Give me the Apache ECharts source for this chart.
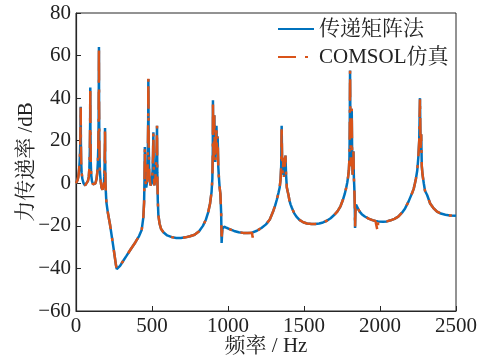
<!DOCTYPE html>
<html>
<head>
<meta charset="utf-8">
<script src="https://cdn.jsdelivr.net/npm/echarts@6/dist/echarts.min.js"></script>
<style>html,body{margin:0;padding:0;background:#fff;}#c{width:484px;height:361px;}</style>
</head>
<body>
<div id="c"></div>
<script>
// Frequency (Hz)
var freq = [
0,5,10,15,20,24,27,29,30,31,32,34,37,42,50,60,70,78,84,88,91,93,94,95,97,100,105,112,120,128,135,140,144,147,149,150,151,152,154,157,162,168,174,179,183,186,188,190,191,192,194,197,200,
210,224,245,262,268,272,278,290,310,333,360,390,415,432,
443,448,451,453,456,462,468,472,475,476,478,482,490,498,504,507,509,511,515,522,528,531,533,535,538,542,550,560,575,600,630,660,690,720,750,780,810,835,855,870,882,892,897,
900,901,902,905,908,910,913,916,920,924,928,932,936,940,945,950,955,958,963,966,970,975,980,990,
1010,1040,1070,1100,1130,1158,1162,1166,1190,1220,1250,1275,1298,1310,1322,1332,
1340,1346,1350,1353,1356,1360,1365,1369,1374,1378,1382,1387,1393,1398,1404,1412,1420,1435,1450,1470,1495,1520,1550,1575,1600,1625,1650,1675,1700,1720,1740,1755,1768,1778,1785,1790,
1795,1799,1801,1803,1805,1808,1811,1814,1817,1820,1823,1825,1828,1831,1834,1836,1838,1842,1848,1856,1866,1880,1900,1925,1950,1970,1982,1985,1988,2000,2020,2045,2070,2095,2120,2145,2165,2185,2200,2212,2222,2230,
2236,2245,2252,2258,2263,2267,2271,2275,2280,2288,2296,2310,2330,2350,2375,2400,2430,2460,2500
];
// 传递矩阵法 (dB)
var tmm = [
0,0.5,1.5,3,6,10,15,22,28,36,20,10,5,2,0,-1,-0.5,1,3,7,15,28,45,25,10,4,1,-0.5,-1,0,2,5,10,18,30,45,64,35,15,6,1,-2,-3,-3,-1,3,8,17,26,10,0,-5,-9,
-14,-19.5,-29.5,-38,-40.3,-41,-40.2,-38.8,-36.5,-34,-31,-27.8,-24.8,-22,
-16,-9,3,17,2,-2,1,10,30,49,20,4,-1,0,6,14,24,8,-1,2,10,18,27,5,-8,-15,-19,-21.5,-23,-24.5,-25.3,-25.7,-25.7,-25.4,-24.9,-24.2,-22.5,-20,-17,-13.5,-9.5,-4,2,
15,39,25,12,22,32,18,10,20,27,14,22,8,3,-2,-5,-14,-28,-21.5,-20.8,-20.6,-20.4,-20.5,-20.9,
-21.5,-22.4,-23,-23.3,-23.4,-23.2,-23.1,-23,-22.3,-21,-19.3,-17,-13,-10.5,-7.5,-4.5,
-2,2,8,27,10,4,12,3,8,13,4,-2,-4,-5.5,-8,-10,-11.5,-14,-15.7,-17.2,-18.3,-18.9,-19.1,-19.1,-18.9,-18.4,-17.6,-16.4,-14.8,-13.2,-10.8,-8,-5,-2,0.5,3,
6,12,25,53,30,8,15,35,12,4,10,15,3,-2,-10,-21,-14,-10,-10.8,-12,-13.3,-14.5,-15.6,-16.6,-17.3,-17.7,-17.8,-17.9,-17.9,-18,-18.1,-17.9,-17.4,-16.7,-15.7,-13.8,-11.8,-9,-6.5,-4.5,-2.5,0,
2,6,12,20,40,15,23,8,4,0,-3.5,-5.5,-9.5,-11.5,-13.3,-14.2,-14.8,-15.1,-15.3
];
// COMSOL仿真 (dB)
var comsol = [
0,0.5,1.5,3,6,10,15,22,28,36,20,10,5,2,0,-1,-0.5,1,3,7,15,28,45,25,10,4,1,-0.5,-1,0,2,5,10,18,30,45,64,35,15,6,1,-2,-3,-3,-1,3,8,17,26,10,0,-5,-9,
-14,-19.5,-29.5,-38,-40.3,-41,-40.2,-38.8,-36.5,-34,-31,-27.8,-24.8,-22,
-16,-9,3,17,2,-2,1,10,30,49.5,20,4,-1,0,6,14,24,8,-1,2,10,18,27,5,-8,-15,-19,-21.5,-23,-24.5,-25.3,-25.7,-25.7,-25.4,-24.9,-24.2,-22.5,-20,-17,-13.5,-9.5,-4,2,
15,39,25,12,22,32,18,10,20,27,14,22,8,3,-2,-5,-14,-25,-21.5,-20.8,-20.6,-20.4,-20.5,-20.9,
-21.5,-22.4,-23,-23.3,-23.4,-23.2,-25.5,-23,-22.3,-21,-19.3,-17,-13,-10.5,-7.5,-4.5,
-2,2,8,27,10,4,12,3,8,13,4,-2,-4,-5.5,-8,-10,-11.5,-14,-15.7,-17.2,-18.3,-18.9,-19.1,-19.1,-18.9,-18.4,-17.6,-16.4,-14.8,-13.2,-10.8,-8,-5,-2,0.5,3,
6,12,25,53,30,8,15,35,12,4,10,15,3,-2,-10,-21,-14,-10,-10.8,-12,-13.3,-14.5,-15.6,-16.6,-17.3,-17.7,-17.8,-22.7,-17.9,-18,-18.1,-17.9,-17.4,-16.7,-15.7,-13.8,-11.8,-9,-6.5,-4.5,-2.5,0,
2,6,12,20,40,15,23,8,4,0,-3.5,-5.5,-9.5,-11.5,-13.3,-14.2,-14.8,-15.1,-15.3
];
var seriesNames = ['传递矩阵法', 'COMSOL仿真'];
var xTicks = [0, 500, 1000, 1500, 2000, 2500];
var yTicks = [-60, -40, -20, 0, 20, 40, 60, 80];

function pairs(vals) { return freq.map(function (f, i) { return [f, vals[i]]; }); }

var FONT = "'Liberation Serif','Noto Serif CJK SC','Noto Sans CJK SC',serif";
var AX = '#262626';
var chart = echarts.init(document.getElementById('c'), null, {renderer: 'canvas'});
chart.setOption({
  animation: false,
  backgroundColor: '#fff',
  grid: {left: 76, right: 28, top: 13, bottom: 50, show: true, borderColor: AX, borderWidth: 1,
         containLabel: false, outerBoundsMode: 'none'},
  legend: {
    orient: 'vertical', left: 272, top: 12, itemWidth: 36, itemHeight: 14, itemGap: 4,
    itemStyle: {opacity: 0},
    textStyle: {fontFamily: FONT, fontSize: 21, color: '#222', lineHeight: 24},
    data: seriesNames
  },
  xAxis: {
    type: 'value', min: xTicks[0], max: xTicks[xTicks.length - 1], interval: 500,
    name: '频率 / Hz', nameLocation: 'middle', nameGap: 25, nameMoveOverlap: false,
    nameTextStyle: {fontFamily: FONT, fontSize: 21, color: '#222'},
    axisLine: {onZero: false, lineStyle: {color: AX, width: 1.2}},
    axisTick: {inside: true, length: 5, lineStyle: {color: AX}},
    axisLabel: {fontFamily: FONT, fontSize: 21, color: '#222', margin: 5,
      formatter: function (v) { return String(v); }},
    splitLine: {show: false}
  },
  yAxis: {
    type: 'value', min: yTicks[0], max: yTicks[yTicks.length - 1], interval: 20,
    name: '力传递率 /dB', nameLocation: 'middle', nameGap: 39, nameMoveOverlap: false,
    nameTextStyle: {fontFamily: FONT, fontSize: 21, color: '#222'},
    axisLine: {show: true, onZero: false, lineStyle: {color: AX, width: 1.2}},
    axisTick: {show: true, inside: true, length: 5, lineStyle: {color: AX}},
    axisLabel: {fontFamily: FONT, fontSize: 21, color: '#222', margin: 5,
      formatter: function (v) { return String(v).replace('-', '\u2212'); }},
    splitLine: {show: false}
  },
  series: [
    {name: seriesNames[0], type: 'line', data: pairs(tmm), symbol: 'none', smooth: false,
     lineStyle: {color: '#0072BD', width: 2.5}, itemStyle: {color: '#0072BD'}},
    {name: seriesNames[1], type: 'line', data: pairs(comsol), symbol: 'none', smooth: false,
     lineStyle: {color: '#D95319', width: 2.5, type: [18, 9, 3, 9], cap: 'butt'}, itemStyle: {color: '#D95319'}}
  ]
});
</script>
</body>
</html>
